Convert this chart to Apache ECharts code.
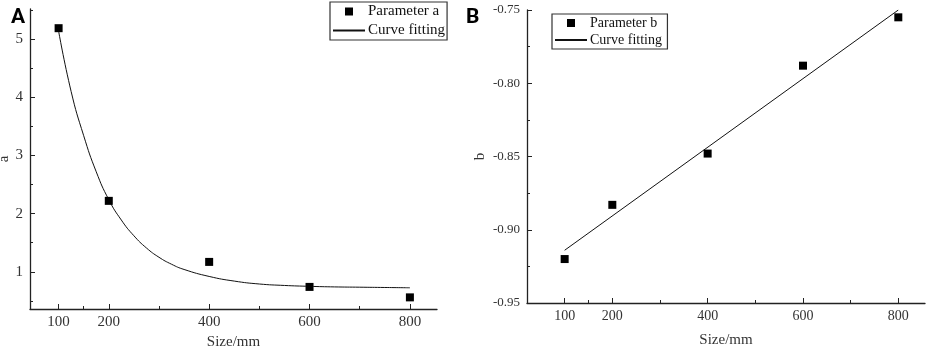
<!DOCTYPE html>
<html>
<head>
<meta charset="utf-8">
<script src="https://cdn.jsdelivr.net/npm/echarts@6/dist/echarts.min.js"></script>
<style>
  html, body { margin: 0; padding: 0; background: #fff; }
  #chart { width: 927px; height: 347px; }
</style>
</head>
<body>
<div id="chart"></div>
<script>
// values
var sizes = [100, 200, 400, 600, 800];
var paramA = [5.19, 2.22, 1.17, 0.74, 0.56];
var paramB = [-0.920, -0.883, -0.848, -0.788, -0.755];

// fitted curve of panel A, read at these sizes
var fitASizes = [100, 125, 150, 175, 200, 225, 250, 275, 300, 325, 350, 400, 450, 500, 550, 600, 650, 700, 750, 800];
var fitAValues = [5.14, 4.10, 3.34, 2.72, 2.24, 1.89, 1.62, 1.41, 1.25, 1.13, 1.04, 0.92, 0.84, 0.79, 0.765, 0.75, 0.74, 0.735, 0.73, 0.725];
// fitted line of panel B (its two ends)
var fitBSizes = [100, 800];
var fitBValues = [-0.914, -0.750];

var majorX = [100, 200, 400, 600, 800];
var minorX = [150, 300, 500, 700];
var majorYA = [1, 2, 3, 4, 5];
var minorYA = [0.5, 1.5, 2.5, 3.5, 4.5, 5.5];

var serif = "Liberation Serif";
var axisColor = '#222';

function pairs(xs, ys) {
    var out = [];
    for (var i = 0; i < xs.length; i++) {
        out.push([xs[i], ys[i]]);
    }
    return out;
}

function mainX(grid, min, max, gap, size) {
    return {
        type : 'value', gridIndex : grid, min : min, max : max, position : 'bottom',
        name : 'Size/mm', nameLocation : 'middle', nameGap : gap,
        nameTextStyle : { fontFamily : serif, fontSize : 15, color : '#333' },
        splitLine : { show : false },
        axisLine : { lineStyle : { color : axisColor, width : 1.3 } },
        axisTick : { inside : true, length : 5, customValues : majorX, lineStyle : { color : axisColor } },
        axisLabel : { customValues : majorX, margin : 6, fontFamily : serif, fontSize : size, color : '#333' }
    };
}

function minorXAxis(grid, min, max) {
    return {
        type : 'value', gridIndex : grid, min : min, max : max, position : 'bottom',
        splitLine : { show : false },
        axisLine : { show : false },
        axisTick : { inside : true, length : 3, customValues : minorX, lineStyle : { color : axisColor } },
        axisLabel : { show : false }
    };
}

var option = {
    backgroundColor : '#fff',
    animation : false,
    title : [
        { text : 'A', left : 6, top : 2, textStyle : { fontFamily : 'Roboto', fontWeight : 'bold', fontSize : 21, color : '#000' } },
        { text : 'B', left : 461, top : 2, textStyle : { fontFamily : 'Roboto', fontWeight : 'bold', fontSize : 21, color : '#000' } }
    ],
    legend : [ {
        data : [
            { name : 'Parameter a', lineStyle : { opacity : 0 } },
            { name : 'Curve fitting', itemStyle : { opacity : 0 } }
        ],
        orient : 'vertical', left : 330, top : 2,
        borderColor : '#333', borderWidth : 1.2, padding : [2, 2, 2, 2],
        itemWidth : 32, itemHeight : 10, itemGap : 4,
        textStyle : { fontFamily : serif, fontSize : 15, color : '#111', padding : [0, 0, 0, -2] },
        selectedMode : false
    }, {
        data : [
            { name : 'Parameter b', lineStyle : { opacity : 0 } },
            { name : 'Curve fitting ', itemStyle : { opacity : 0 } }
        ],
        orient : 'vertical', left : 552, top : 14,
        borderColor : '#333', borderWidth : 1.2, padding : [2, 2, 2, 2],
        itemWidth : 32, itemHeight : 10, itemGap : 3,
        textStyle : { fontFamily : serif, fontSize : 14, color : '#111', padding : [0, 0, 0, -2] },
        selectedMode : false
    } ],
    grid : [
        { left : 30, top : 9, width : 407, height : 300, outerBoundsMode : 'none' },
        { left : 527, top : 10, width : 398, height : 293, outerBoundsMode : 'none' }
    ],
    xAxis : [
        mainX(0, 43, 854, 23, 15),
        minorXAxis(0, 43, 854),
        mainX(1, 21, 856, 30, 14),
        minorXAxis(1, 21, 856)
    ],
    yAxis : [ {
        type : 'value', gridIndex : 0, min : 0.36, max : 5.52, position : 'left',
        name : 'a', nameLocation : 'middle', nameGap : 17,
        nameTextStyle : { fontFamily : serif, fontSize : 15, color : '#333' },
        splitLine : { show : false },
        axisLine : { lineStyle : { color : axisColor, width : 1.3 } },
        axisTick : { inside : true, length : 5, customValues : majorYA, lineStyle : { color : axisColor } },
        axisLabel : { customValues : majorYA, margin : 7, fontFamily : serif, fontSize : 15, color : '#333' }
    }, {
        type : 'value', gridIndex : 0, min : 0.36, max : 5.52, position : 'left',
        splitLine : { show : false },
        axisLine : { show : false },
        axisTick : { inside : true, length : 3, customValues : minorYA, lineStyle : { color : axisColor } },
        axisLabel : { show : false }
    }, {
        type : 'value', gridIndex : 1, min : -0.95, max : -0.75, interval : 0.05, position : 'left',
        name : 'b', nameLocation : 'middle', nameGap : 39,
        nameTextStyle : { fontFamily : serif, fontSize : 15, color : '#333' },
        splitLine : { show : false },
        minorTick : { show : true, splitNumber : 2, length : 3, lineStyle : { color : axisColor } },
        axisLine : { lineStyle : { color : axisColor, width : 1.3 } },
        axisTick : { inside : true, length : 5, lineStyle : { color : axisColor } },
        axisLabel : {
            margin : 7, fontFamily : serif, fontSize : 13, color : '#333',
            formatter : function(v) { return v.toFixed(2); }
        }
    } ],
    series : [ {
        name : 'Parameter a', type : 'line', xAxisIndex : 0, yAxisIndex : 0,
        data : pairs(sizes, paramA),
        symbol : 'rect', symbolSize : 8,
        itemStyle : { color : '#000' },
        lineStyle : { opacity : 0, width : 0 }
    }, {
        name : 'Curve fitting', type : 'line', xAxisIndex : 0, yAxisIndex : 0,
        data : pairs(fitASizes, fitAValues),
        smooth : true, symbol : 'none',
        itemStyle : { color : '#000' },
        lineStyle : { color : '#111', width : 1 }
    }, {
        name : 'Parameter b', type : 'line', xAxisIndex : 2, yAxisIndex : 2,
        data : pairs(sizes, paramB),
        symbol : 'rect', symbolSize : 8,
        itemStyle : { color : '#000' },
        lineStyle : { opacity : 0, width : 0 }
    }, {
        name : 'Curve fitting ', type : 'line', xAxisIndex : 2, yAxisIndex : 2,
        data : pairs(fitBSizes, fitBValues),
        symbol : 'none',
        itemStyle : { color : '#000' },
        lineStyle : { color : '#111', width : 1 }
    } ]
};

var chart = echarts.init(document.getElementById('chart'));
chart.setOption(option);
</script>
</body>
</html>
